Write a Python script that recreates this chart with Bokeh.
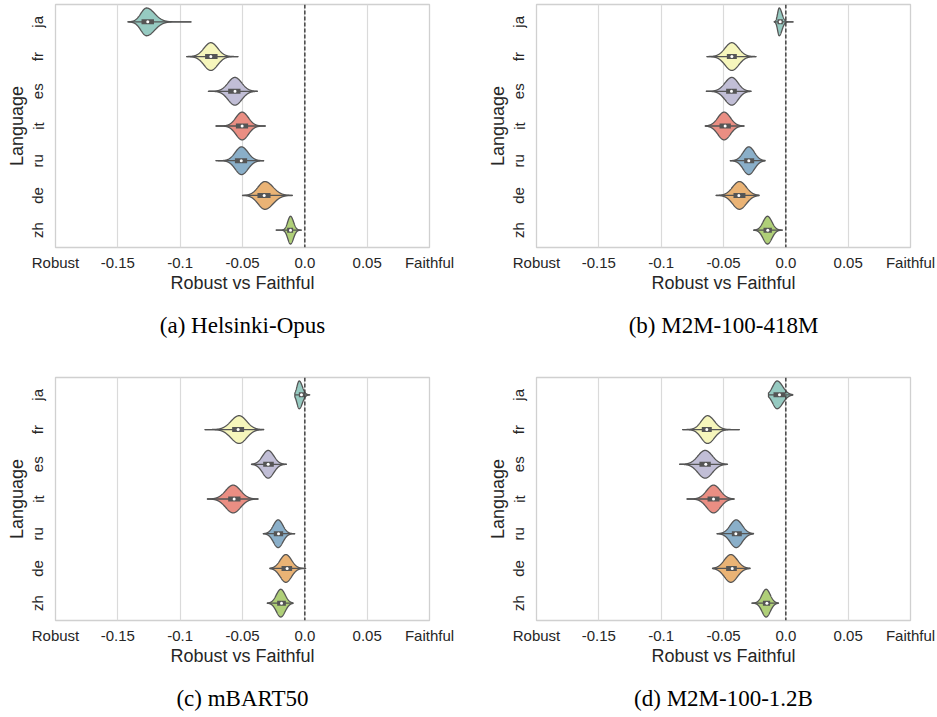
import colorsys
import numpy as np
from bokeh.plotting import figure
from bokeh.layouts import gridplot
from bokeh.models import Range1d, FixedTicker, ColumnDataSource, Span
from bokeh.embed import file_html
from bokeh.resources import INLINE

# ---------------- data ----------------
languages = ["ja", "fr", "es", "it", "ru", "de", "zh"]
x_ticks = [-0.2, -0.15, -0.1, -0.05, 0.0, 0.05, 0.1]
x_tick_labels = ["Robust", "-0.15", "-0.1", "-0.05", "0.0", "0.05", "Faithful"]
captions = ["(a) Helsinki-Opus", "(b) M2M-100-418M", "(c) mBART50", "(d) M2M-100-1.2B"]

# (a) Helsinki-Opus
a_mode = [-0.127, -0.0754, -0.0561, -0.0503, -0.0508, -0.0320, -0.0115]
a_sd_left = [0.0045, 0.0055, 0.0055, 0.0050, 0.0050, 0.0055, 0.0022]
a_sd_right = [0.0065, 0.0055, 0.0055, 0.0050, 0.0052, 0.0065, 0.0024]
a_lo = [-0.142, -0.0949, -0.0775, -0.0714, -0.0714, -0.0500, -0.0233]
a_hi = [-0.091, -0.0535, -0.0380, -0.0316, -0.0329, -0.0099, -0.0027]
a_q1 = [-0.131, -0.0800, -0.0615, -0.0553, -0.0561, -0.0380, -0.0142]
a_med = [-0.126, -0.0754, -0.0560, -0.0503, -0.0510, -0.0326, -0.0115]
a_q3 = [-0.121, -0.0700, -0.0516, -0.0455, -0.0463, -0.0275, -0.0094]

# (b) M2M-100-418M
b_mode = [-0.0053, -0.0433, -0.0433, -0.0495, -0.0297, -0.0372, -0.0147]
b_sd_left = [0.0013, 0.0055, 0.0055, 0.0050, 0.0045, 0.0055, 0.0035]
b_sd_right = [0.0022, 0.0055, 0.0050, 0.0050, 0.0045, 0.0055, 0.0035]
b_lo = [-0.0094, -0.0634, -0.0639, -0.0647, -0.0447, -0.0561, -0.0259]
b_hi = [0.0061, -0.0238, -0.0278, -0.0334, -0.0166, -0.0214, -0.0027]
b_q1 = [-0.0067, -0.0473, -0.0479, -0.0532, -0.0334, -0.0420, -0.0179]
b_med = [-0.0045, -0.0433, -0.0436, -0.0487, -0.0297, -0.0377, -0.0145]
b_q3 = [-0.0024, -0.0393, -0.0393, -0.0441, -0.0254, -0.0324, -0.0112]

# (c) mBART50
c_mode = [-0.0045, -0.0527, -0.0294, -0.0575, -0.0214, -0.0152, -0.0193]
c_sd_left = [0.0018, 0.0065, 0.0045, 0.0060, 0.0038, 0.0045, 0.0035]
c_sd_right = [0.0025, 0.0060, 0.0045, 0.0060, 0.0038, 0.0045, 0.0035]
c_lo = [-0.0080, -0.0802, -0.0428, -0.0783, -0.0334, -0.0281, -0.0302]
c_hi = [0.0040, -0.0329, -0.0147, -0.0374, -0.0080, 0.0008, -0.0094]
c_q1 = [-0.0048, -0.0583, -0.0334, -0.0615, -0.0249, -0.0187, -0.0222]
c_med = [-0.0027, -0.0535, -0.0294, -0.0567, -0.0211, -0.0142, -0.0187]
c_q3 = [0.0000, -0.0487, -0.0249, -0.0516, -0.0174, -0.0102, -0.0152]

# (d) M2M-100-1.2B
d_mode = [-0.0070, -0.0628, -0.0647, -0.0580, -0.0398, -0.0441, -0.0158]
d_sd_left = [0.0035, 0.0050, 0.0058, 0.0055, 0.0048, 0.0052, 0.0033]
d_sd_right = [0.0045, 0.0055, 0.0058, 0.0055, 0.0048, 0.0052, 0.0033]
d_lo = [-0.0139, -0.0829, -0.0853, -0.0794, -0.0553, -0.0588, -0.0273]
d_hi = [0.0056, -0.0372, -0.0468, -0.0414, -0.0259, -0.0286, -0.0059]
d_q1 = [-0.0099, -0.0674, -0.0693, -0.0628, -0.0433, -0.0479, -0.0184]
d_med = [-0.0051, -0.0634, -0.0642, -0.0580, -0.0401, -0.0430, -0.0152]
d_q3 = [-0.0005, -0.0594, -0.0602, -0.0532, -0.0353, -0.0393, -0.0126]

# ---------------- style ----------------
set3 = ["#8dd3c7", "#ffffb3", "#bebada", "#fb8072", "#80b1d3", "#fdb462", "#b3de69"]


def desaturate(hex_color, prop=0.75):
    r, g, b = (int(hex_color[i:i + 2], 16) / 255 for i in (1, 3, 5))
    h, l, s = colorsys.rgb_to_hls(r, g, b)
    r, g, b = colorsys.hls_to_rgb(h, l, s * prop)
    return "#%02x%02x%02x" % (round(r * 255), round(g * 255), round(b * 255))


colors = [desaturate(c) for c in set3]
EDGE = "#555555"
TEXT = "#262626"
SANS = "Liberation Sans"
SERIF = "Liberation Serif"
HALF_WIDTH = 0.4


def make_panel(caption, mode, sdl, sdr, lo, hi, q1, med, q3,
               left, right, top, bottom, standoff):
    p = figure(frame_width=374, frame_height=243,
               min_border_left=left, min_border_right=right,
               min_border_top=top, min_border_bottom=bottom,
               x_range=Range1d(-0.2, 0.1), y_range=Range1d(-0.5, 6.5),
               output_backend="svg", toolbar_location=None, tools="",
               title_location="below", title=caption)
    p.background_fill_color = "white"
    p.border_fill_color = "white"
    p.outline_line_color = "#d0d0d0"
    p.outline_line_width = 1.3

    p.title.align = "center"
    p.title.text_font = SERIF
    p.title.text_font_size = "23px"
    p.title.text_font_style = "normal"
    p.title.text_color = "black"
    p.title.standoff = standoff

    ys = [len(languages) - 1 - i for i in range(len(languages))]

    # axes
    p.xaxis.ticker = FixedTicker(ticks=x_ticks)
    p.xaxis.major_label_overrides = {t: l for t, l in zip(x_ticks, x_tick_labels)}
    p.yaxis.ticker = FixedTicker(ticks=ys)
    p.yaxis.major_label_overrides = {y: lang for y, lang in zip(ys, languages)}
    p.yaxis.major_label_orientation = "vertical"
    p.xaxis.axis_label = "Robust vs Faithful"
    p.yaxis.axis_label = "Language"
    for ax in (p.xaxis, p.yaxis):
        ax.axis_line_color = None
        ax.major_tick_line_color = None
        ax.minor_tick_line_color = None
        ax.major_tick_out = 0
        ax.major_tick_in = 0
        ax.major_label_text_font = SANS
        ax.major_label_text_font_size = "15px"
        ax.major_label_text_color = TEXT
        ax.axis_label_text_font = SANS
        ax.axis_label_text_font_size = "18px"
        ax.axis_label_text_font_style = "normal"
        ax.axis_label_text_color = TEXT
    p.xaxis.major_label_standoff = 6
    p.xaxis.axis_label_standoff = -1
    p.yaxis.major_label_standoff = 9
    p.yaxis.axis_label_standoff = 0

    p.xgrid.ticker = FixedTicker(ticks=x_ticks)
    p.xgrid.grid_line_color = "#dadada"
    p.xgrid.grid_line_width = 1.2
    p.ygrid.grid_line_color = None

    # violin outlines from the summary parameters
    xs_list, ys_list = [], []
    for i, y in enumerate(ys):
        xv = np.linspace(lo[i], hi[i], 200)
        sd = np.where(xv < mode[i], sdl[i], sdr[i])
        hw = HALF_WIDTH * np.exp(-0.5 * ((xv - mode[i]) / sd) ** 2)
        xs_list.append(np.concatenate([xv, xv[::-1]]))
        ys_list.append(np.concatenate([y + hw, (y - hw)[::-1]]))
    src = ColumnDataSource(dict(xs=xs_list, ys=ys_list, color=colors))
    p.patches("xs", "ys", source=src, fill_color="color", fill_alpha=1.0,
              line_color=EDGE, line_width=1.3)

    stat = ColumnDataSource(dict(y=ys, lo=lo, hi=hi, q1=q1, q3=q3, med=med))
    p.segment(x0="lo", y0="y", x1="hi", y1="y", source=stat,
              line_color=EDGE, line_width=1.3)
    p.segment(x0="q1", y0="y", x1="q3", y1="y", source=stat,
              line_color=EDGE, line_width=5, line_cap="butt")
    p.scatter(x="med", y="y", source=stat, marker="circle", size=3,
              fill_color="white", line_color=None)

    p.add_layout(Span(location=0.0, dimension="height", line_color="#444444",
                      line_dash="4 2", line_width=1.5))
    return p


pa = make_panel(captions[0], a_mode, a_sd_left, a_sd_right, a_lo, a_hi, a_q1, a_med, a_q3,
                55, 41, 4, 123, 30)
pb = make_panel(captions[1], b_mode, b_sd_left, b_sd_right, b_lo, b_hi, b_q1, b_med, b_q3,
                66, 27, 4, 123, 30)
pc = make_panel(captions[2], c_mode, c_sd_left, c_sd_right, c_lo, c_hi, c_q1, c_med, c_q3,
                55, 41, 7, 97, 30)
pd = make_panel(captions[3], d_mode, d_sd_left, d_sd_right, d_lo, d_hi, d_q1, d_med, d_q3,
                66, 27, 7, 97, 30)

grid = gridplot([[pa, pb], [pc, pd]], toolbar_location=None)

open("out.html", "w").write(file_html(grid, INLINE))
